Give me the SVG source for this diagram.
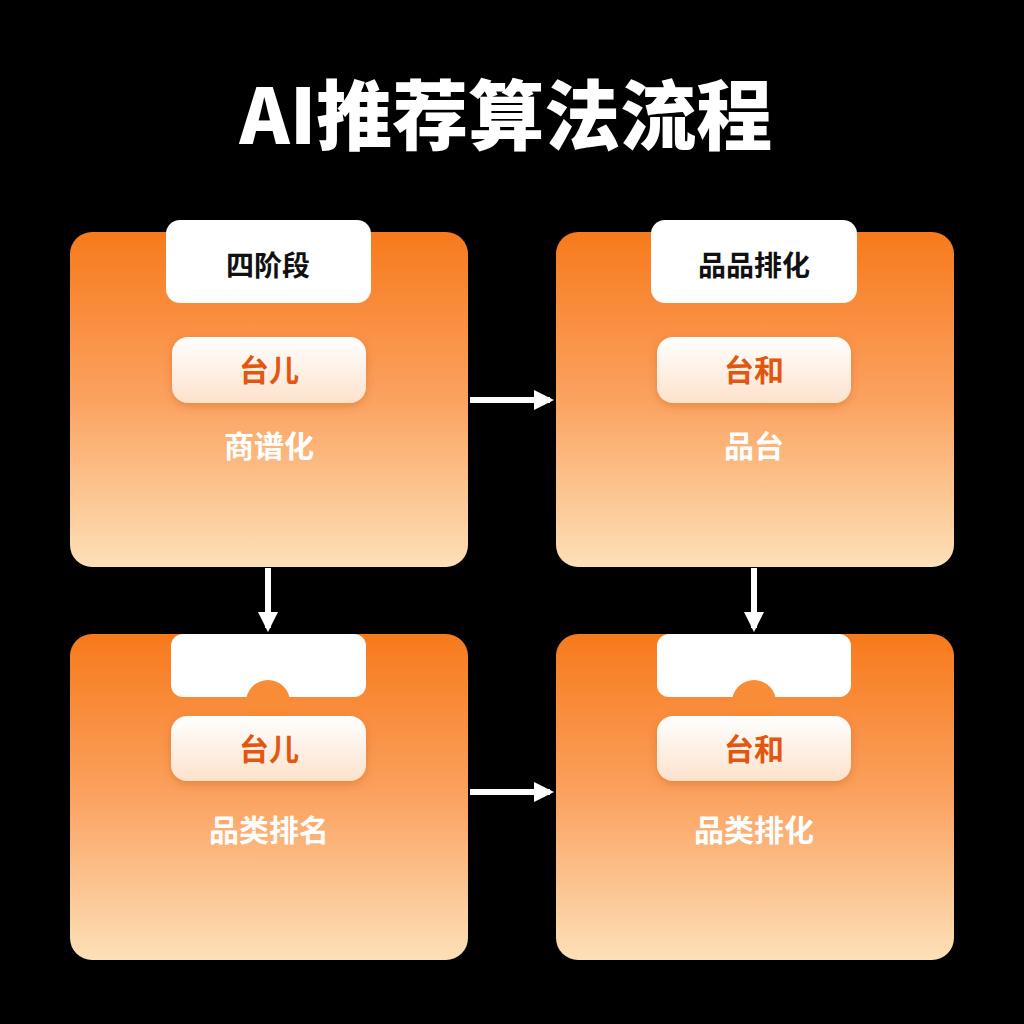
<svg xmlns="http://www.w3.org/2000/svg" width="1024" height="1024" viewBox="0 0 1024 1024">
<defs>
<linearGradient id="card" x1="0" y1="0" x2="0" y2="1">
<stop offset="0" stop-color="#f77a1c"/><stop offset="0.5" stop-color="#fba260"/><stop offset="1" stop-color="#fde0b8"/>
</linearGradient>
<linearGradient id="pill" x1="0" y1="0" x2="0" y2="1">
<stop offset="0" stop-color="#ffffff"/><stop offset="1" stop-color="#fde2cc"/>
</linearGradient>
<filter id="sh" x="-20%" y="-30%" width="140%" height="160%"><feDropShadow dx="0" dy="3" stdDeviation="4" flood-color="#b44a00" flood-opacity="0.3"/></filter>
<marker id="ah" viewBox="0 0 10 10" refX="8" refY="5" markerWidth="3.4" markerHeight="3.4" orient="auto"><path d="M0,0 L10,5 L0,10 z" fill="#fff"/></marker>
</defs>
<style>
text{font-family:"Noto Sans CJK SC","Liberation Sans",sans-serif;font-weight:700;text-anchor:middle}
.card{fill:url(#card)}
.tab{fill:#fff}
.pill{fill:url(#pill);filter:url(#sh)}
.pt{fill:#e2560f;font-size:30px}
.wt{fill:#fff;font-size:30px}
.tt{fill:#111;font-size:28px}
.conn{stroke:#fff;stroke-width:6;fill:none;marker-end:url(#ah)}
</style>
<rect width="1024" height="1024" fill="#000"/>
<text x="506" y="144" style="fill:#fff;font-size:76px;font-weight:900">AI推荐算法流程</text>
<g id="n1">
<rect class="card" x="70" y="232" width="398" height="335" rx="22"/>
<rect class="tab" x="166" y="220" width="205" height="83" rx="14"/>
<text class="tt" x="268" y="276">四阶段</text>
<rect class="pill" x="172" y="337" width="194" height="66" rx="16"/>
<text class="pt" x="269" y="381">台儿</text>
<text class="wt" x="269" y="457">商谱化</text>
</g>
<g id="n2">
<rect class="card" x="556" y="232" width="398" height="335" rx="22"/>
<rect class="tab" x="651" y="220" width="206" height="83" rx="14"/>
<text class="tt" x="754" y="276">品品排化</text>
<rect class="pill" x="657" y="337" width="194" height="66" rx="16"/>
<text class="pt" x="754" y="381">台和</text>
<text class="wt" x="754" y="457">品台</text>
</g>
<g id="n3">
<rect class="card" x="70" y="634" width="398" height="326" rx="22"/>
<rect class="tab" x="171" y="634" width="195" height="63" rx="12"/>
<circle cx="268" cy="702" r="22" fill="#f98c36"/>
<rect class="pill" x="171" y="716" width="195" height="65" rx="16"/>
<text class="pt" x="269" y="760">台儿</text>
<text class="wt" x="269" y="841">品类排名</text>
</g>
<g id="n4">
<rect class="card" x="556" y="634" width="398" height="326" rx="22"/>
<rect class="tab" x="657" y="634" width="194" height="63" rx="12"/>
<circle cx="754" cy="702" r="22" fill="#f98c36"/>
<rect class="pill" x="657" y="716" width="194" height="65" rx="16"/>
<text class="pt" x="754" y="760">台和</text>
<text class="wt" x="754" y="841">品类排化</text>
</g>
<g id="connectors">
<line class="conn" x1="470" y1="400" x2="550" y2="400"/>
<line class="conn" x1="470" y1="792" x2="550" y2="792"/>
<line class="conn" x1="268" y1="568" x2="268" y2="628"/>
<line class="conn" x1="754" y1="568" x2="754" y2="628"/>
</g>
</svg>
